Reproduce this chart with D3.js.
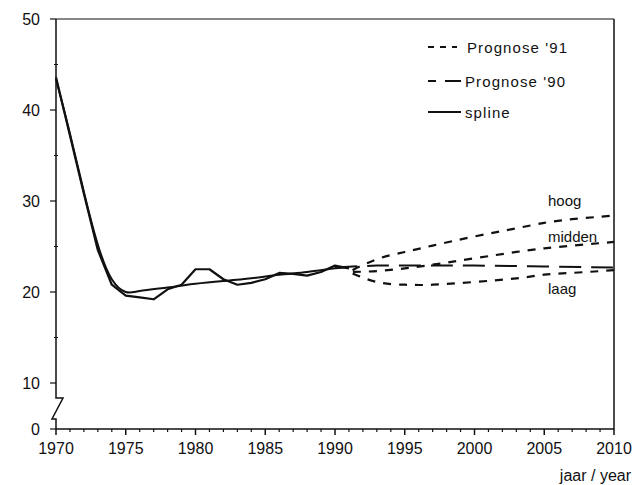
<!DOCTYPE html>
<html><head><meta charset="utf-8">
<script src="https://cdn.jsdelivr.net/npm/d3@7"></script>
<style>body{margin:0;background:#fff}svg{display:block}text{font-family:"Liberation Sans",Arial,sans-serif;fill:#111}</style>
</head><body><svg id="c" width="636" height="485"></svg>
<script>
const obsYears = [1970,1971,1972,1973,1974,1975,1976,1977,1978,1979,1980,1981,1982,1983,1984,1985,1986,1987,1988,1989,1990,1991];
const obsValues = [43.6,37.2,30.8,24.6,20.8,19.6,19.4,19.2,20.3,20.8,22.5,22.5,21.4,20.8,21.0,21.4,22.1,22.0,21.8,22.2,22.9,22.6];
const splineYears = [1970,1971,1972,1973,1974,1975,1976,1978,1980,1982,1984,1986,1988,1990,1991];
const splineValues = [43.4,37.4,31.0,25.2,21.4,20.0,20.1,20.5,20.9,21.2,21.5,21.9,22.2,22.6,22.7];
const progYears = [1991,1993,1995,1997,2000,2003,2005,2007,2010];
const hoog = [22.2,23.6,24.4,25.1,26.1,27.0,27.6,28.0,28.4];
const midden = [22.2,22.3,22.6,23.0,23.7,24.4,24.8,25.1,25.5];
const laag = [22.2,21.1,20.8,20.8,21.1,21.5,21.9,22.1,22.4];
const p90Years = [1990,1993,1996,2000,2005,2010];
const p90Values = [22.7,22.9,22.9,22.9,22.8,22.7];
const yTicks = [0,10,20,30,40,50];
const yMinor = [15,25,35,45];
const xTicks = [1970,1975,1980,1985,1990,1995,2000,2005,2010];
const curveLabels = ["hoog","midden","laag"];
const legendLabels = ["Prognose '91","Prognose '90","spline"];
const xTitle = "jaar / year";

const svg = d3.select("#c");
const x = d3.scaleLinear().domain([1970,2010]).range([56,614]);
const y = d3.scaleLinear().domain([0,10,50]).range([429,383,19]);

const g = svg.append("g");
// frame: top, right, bottom
g.append("line").attr("x1",x(1970)).attr("x2",x(2010)).attr("y1",y(50)).attr("y2",y(50)).attr("stroke","#111").attr("stroke-width",1.2);
g.append("line").attr("x1",x(2010)).attr("x2",x(2010)).attr("y1",y(50)).attr("y2",y(0)).attr("stroke","#111").attr("stroke-width",1.5);
g.append("line").attr("x1",x(1970)).attr("x2",x(2010)).attr("y1",y(0)).attr("y2",y(0)).attr("stroke","#111").attr("stroke-width",1.5);
// left axis with break
const X0 = x(1970);
g.append("path").attr("fill","none").attr("stroke","#111").attr("stroke-width",1.5)
 .attr("d",`M${X0},${y(50)} L${X0},${y(10)+15} L${X0+7},${y(10)+15} L${X0-4},${y(10)+36} L${X0},${y(10)+36} L${X0},${y(0)}`);

// y ticks
yTicks.forEach(v=>{
  g.append("line").attr("x1",X0-6).attr("x2",X0).attr("y1",y(v)).attr("y2",y(v)).attr("stroke","#111").attr("stroke-width",1.2);
  g.append("text").attr("x",X0-16).attr("y",y(v)+6).attr("text-anchor","end").attr("font-size",16).text(v);
});
yMinor.forEach(v=>{
  g.append("line").attr("x1",X0-2).attr("x2",X0+2).attr("y1",y(v)).attr("y2",y(v)).attr("stroke","#111").attr("stroke-width",1);
});
// x ticks
d3.range(1970,2011).forEach(yr=>{
  const major = xTicks.includes(yr);
  g.append("line").attr("x1",x(yr)).attr("x2",x(yr)).attr("y1",y(0)).attr("y2",y(0)+(major?6:3)).attr("stroke","#111").attr("stroke-width",major?1.5:1.2);
});
xTicks.forEach(yr=>{
  g.append("text").attr("x",x(yr)).attr("y",y(0)+25).attr("text-anchor","middle").attr("font-size",16).text(yr);
});
g.append("text").attr("x",631).attr("y",y(0)+52).attr("text-anchor","end").attr("font-size",16).text(xTitle);

const lineLin = d3.line().x(d=>x(d[0])).y(d=>y(d[1]));
const lineSm = d3.line().x(d=>x(d[0])).y(d=>y(d[1])).curve(d3.curveNatural);
const zip = (a,b)=>a.map((v,i)=>[v,b[i]]);

g.append("path").attr("d",lineLin(zip(obsYears,obsValues))).attr("fill","none").attr("stroke","#111").attr("stroke-width",2.2).attr("stroke-linejoin","round");
g.append("path").attr("d",lineSm(zip(splineYears,splineValues))).attr("fill","none").attr("stroke","#111").attr("stroke-width",2);
g.append("path").attr("d",lineSm(zip(p90Years,p90Values))).attr("fill","none").attr("stroke","#111").attr("stroke-width",2).attr("stroke-dasharray","22,10");
[hoog,midden,laag].forEach(s=>{
  g.append("path").attr("d",lineSm(zip(progYears,s))).attr("fill","none").attr("stroke","#111").attr("stroke-width",2.2).attr("stroke-dasharray","8,8").attr("stroke-dashoffset",-4);
});

// curve labels
curveLabels.forEach((t,i)=>{
  g.append("text").attr("x",548).attr("y",[206,242,294][i]).attr("font-size",15).text(t);
});

// legend
const ly=[53,87,118];
g.append("line").attr("x1",428).attr("x2",457).attr("y1",ly[0]-6).attr("y2",ly[0]-6).attr("stroke","#111").attr("stroke-width",1.8).attr("stroke-dasharray","6,6");
g.append("line").attr("x1",428).attr("x2",461).attr("y1",ly[1]-6).attr("y2",ly[1]-6).attr("stroke","#111").attr("stroke-width",1.8).attr("stroke-dasharray","8,9,20");
g.append("line").attr("x1",428).attr("x2",461).attr("y1",ly[2]-6).attr("y2",ly[2]-6).attr("stroke","#111").attr("stroke-width",1.8);
legendLabels.forEach((t,i)=>{
  g.append("text").attr("x",[467,465,465][i]).attr("y",ly[i]).attr("font-size",15).attr("letter-spacing",1.1).text(t);
});
</script></body></html>
